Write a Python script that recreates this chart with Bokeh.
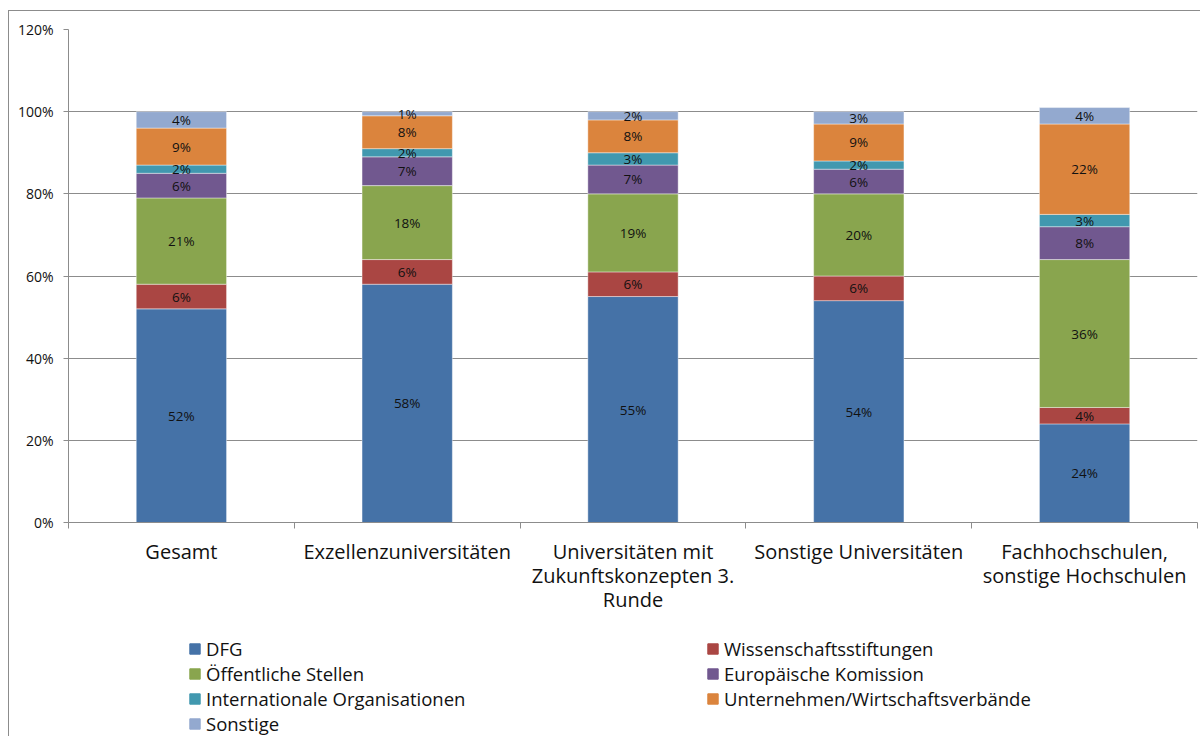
from bokeh.plotting import figure
from bokeh.layouts import column
from bokeh.models import ColumnDataSource, Range1d, FixedTicker, PrintfTickFormatter, Legend, LegendItem
from bokeh.core.properties import value
from bokeh.embed import file_html
from bokeh.resources import INLINE

categories = ["Gesamt", "Exzellenzuniversitäten",
              "Universitäten mit\nZukunftskonzepten 3.\nRunde",
              "Sonstige Universitäten",
              "Fachhochschulen,\nsonstige Hochschulen"]
series = ["DFG", "Wissenschaftsstiftungen", "Öffentliche Stellen",
          "Europäische Komission", "Internationale Organisationen",
          "Unternehmen/Wirtschaftsverbände", "Sonstige"]
dfg = [52, 58, 55, 54, 24]
wiss = [6, 6, 6, 6, 4]
oeff = [21, 18, 19, 20, 36]
eur = [6, 7, 7, 6, 8]
intl = [2, 2, 3, 2, 3]
unt = [9, 8, 8, 9, 22]
sonst = [4, 1, 2, 3, 4]
colors = ["#4572A7", "#AA4643", "#89A54E", "#71588F", "#4198AF", "#DB843D", "#93A9CF"]
y_ticks = [0, 20, 40, 60, 80, 100, 120]

FONT = "Open Sans"
BORDER = "1px solid #8c8c8c"
values = [dfg, wiss, oeff, eur, intl, unt, sonst]
keys = ["s%d" % i for i in range(len(series))]
xs = [i + 0.5 for i in range(len(categories))]

data = {"x": xs}
for k, v in zip(keys, values):
    data[k] = v
src = ColumnDataSource(data)

p = figure(width=1192, height=626, output_backend="svg", toolbar_location=None,
           x_range=Range1d(0, len(categories)), y_range=Range1d(0, 120),
           min_border_left=59, min_border_right=4, min_border_top=18, min_border_bottom=115)
p.styles = {"border-left": BORDER, "border-top": BORDER}
p.outline_line_color = None

renderers = p.vbar_stack(keys, x="x", width=0.4, source=src, color=colors,
                         line_color="white", line_width=0.6, line_alpha=0.7)

# segment labels
lx, ly, lt = [], [], []
for i in range(len(categories)):
    base = 0
    for v in values:
        val = v[i]
        lx.append(xs[i]); ly.append(base + val / 2); lt.append("%d%%" % val)
        base += val
p.text(x=lx, y=ly, text=lt, text_align="center", text_baseline="middle",
       text_font=value(FONT), text_font_size="13.5px", text_color="#111111")

# axes
p.xgrid.grid_line_color = None
p.ygrid.grid_line_color = "#8c8c8c"
p.ygrid.ticker = FixedTicker(ticks=y_ticks)
p.yaxis.ticker = FixedTicker(ticks=y_ticks)
p.yaxis.formatter = PrintfTickFormatter(format="%d%%")
p.yaxis.axis_line_color = "#8c8c8c"
p.yaxis.major_tick_line_color = "#8c8c8c"
p.yaxis.major_tick_out = 5
p.yaxis.major_tick_in = 0
p.yaxis.minor_tick_line_color = None
p.yaxis.major_label_text_font = FONT
p.yaxis.major_label_text_font_size = "14px"
p.yaxis.major_label_text_color = "#111111"
p.yaxis.major_label_standoff = 10

p.xaxis.ticker = FixedTicker(ticks=xs, minor_ticks=list(range(len(categories) + 1)))
p.xaxis.major_label_overrides = {x: c for x, c in zip(xs, categories)}
p.xaxis.axis_line_color = "#8c8c8c"
p.xaxis.major_tick_line_color = None
p.xaxis.major_tick_out = 0
p.xaxis.minor_tick_line_color = "#8c8c8c"
p.xaxis.minor_tick_out = 6
p.xaxis.minor_tick_in = 0
p.xaxis.major_label_text_font = FONT
p.xaxis.major_label_text_font_size = "20px"
p.xaxis.major_label_text_line_height = 0.9
p.xaxis.major_label_text_color = "#111111"
p.xaxis.major_label_standoff = 9

# legend panel (its bars lie outside the visible y-range; only the legend shows)
lg = figure(width=1192, height=100, output_backend="svg", toolbar_location=None,
            x_range=Range1d(0, len(categories)), y_range=Range1d(1000, 1001),
            x_axis_location=None, y_axis_location=None,
            min_border_left=0, min_border_right=0, min_border_top=0, min_border_bottom=0)
lg.styles = {"border-left": BORDER}
lg.outline_line_color = None
lg.grid.visible = False
proxies = lg.vbar_stack(keys, x="x", width=0.4, source=src, color=colors)

order = [0, 2, 4, 6, 1, 3, 5]
items = [LegendItem(label=series[i], renderers=[proxies[i]]) for i in order]
legend = Legend(items=items, ncols=2, location=(120, 0),
                label_text_font=FONT, label_text_font_size="18.5px",
                label_text_color="#111111", label_width=500,
                glyph_width=13, glyph_height=13, label_standoff=5,
                spacing=0, padding=0, margin=0, border_line_color=None,
                background_fill_alpha=0, label_height=21)
lg.add_layout(legend, "center")

layout = column(p, lg, spacing=0)
layout.margin = (10, 0, 0, 8)

open("out.html", "w").write(file_html(layout, INLINE))
